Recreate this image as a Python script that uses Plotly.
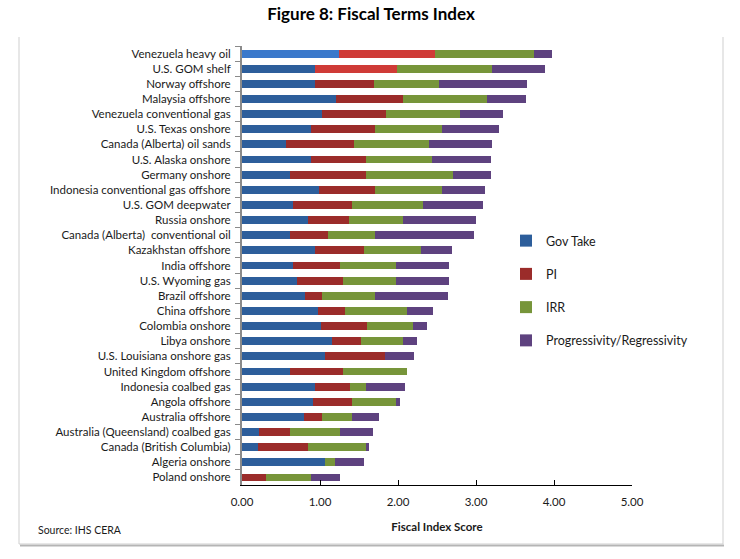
import plotly.graph_objects as go

categories = [
    "Venezuela heavy oil", "U.S. GOM shelf", "Norway offshore", "Malaysia offshore",
    "Venezuela conventional gas", "U.S. Texas onshore", "Canada (Alberta) oil sands",
    "U.S. Alaska onshore", "Germany onshore", "Indonesia conventional gas offshore",
    "U.S. GOM deepwater", "Russia onshore", "Canada (Alberta)  conventional oil",
    "Kazakhstan offshore", "India offshore", "U.S. Wyoming gas", "Brazil offshore",
    "China offshore", "Colombia onshore", "Libya onshore", "U.S. Louisiana onshore gas",
    "United Kingdom offshore", "Indonesia coalbed gas", "Angola offshore",
    "Australia offshore", "Australia (Queensland) coalbed gas",
    "Canada (British Columbia)", "Algeria onshore", "Poland onshore",
]
gov_take = [1.24, 0.93, 0.94, 1.20, 1.03, 0.89, 0.57, 0.89, 0.61, 0.99,
            0.66, 0.84, 0.62, 0.93, 0.66, 0.71, 0.81, 0.97, 1.01, 1.16,
            1.06, 0.62, 0.93, 0.91, 0.79, 0.22, 0.21, 1.07, 0.00]
pi = [1.24, 1.06, 0.75, 0.86, 0.81, 0.82, 0.86, 0.70, 0.98, 0.72,
      0.75, 0.53, 0.48, 0.63, 0.60, 0.58, 0.21, 0.35, 0.59, 0.37,
      0.77, 0.67, 0.46, 0.50, 0.24, 0.40, 0.63, 0.00, 0.31]
irr = [1.26, 1.21, 0.83, 1.08, 0.95, 0.86, 0.97, 0.84, 1.11, 0.86,
       0.91, 0.70, 0.61, 0.74, 0.72, 0.68, 0.69, 0.79, 0.59, 0.53,
       0.00, 0.82, 0.20, 0.56, 0.38, 0.64, 0.75, 0.12, 0.58]
prog = [0.23, 0.68, 1.13, 0.50, 0.56, 0.72, 0.81, 0.76, 0.49, 0.54,
        0.77, 0.93, 1.26, 0.39, 0.68, 0.68, 0.93, 0.34, 0.18, 0.18,
        0.38, 0.00, 0.50, 0.05, 0.35, 0.42, 0.04, 0.37, 0.36]
series_names = ["Gov Take", "PI", "IRR", "Progressivity/Regressivity"]
x_ticks = [0, 1, 2, 3, 4, 5]
x_tick_labels = ["0.00", "1.00", "2.00", "3.00", "4.00", "5.00"]

BLUE, RED, GREEN, PURPLE = "#2D5E9B", "#9B2C2A", "#77953A", "#5E427F"
blue_cols = ["#3B79CB"] + [BLUE] * (len(categories) - 1)
red_cols = ["#CF3B37", "#CF3B37"] + [RED] * (len(categories) - 2)

FONT = "Lato, 'Open Sans', sans-serif"

W, H = 740, 559
L, R, T, B = 242, 632, 46, 485

def px_x(p):
    return (p - L) / (R - L)

def px_y(p):
    return 1 - (p - T) / (B - T)

fig = go.Figure()
for name, vals, col, base_col in zip(series_names, [gov_take, pi, irr, prog],
                                     [blue_cols, red_cols, GREEN, PURPLE],
                                     [BLUE, RED, GREEN, PURPLE]):
    fig.add_trace(go.Bar(
        y=categories, x=vals, name=name, orientation="h",
        marker=dict(color=col, line=dict(width=0)),
        legendgroup=name, showlegend=False, width=0.52,
    ))
    # legend entry with the uniform series colour
    fig.add_trace(go.Bar(
        y=[None], x=[None], name=name, orientation="h",
        marker=dict(color=base_col, line=dict(width=0)),
        legendgroup=name, showlegend=True, hoverinfo="skip",
    ))

shapes = [
    dict(type="line", xref="paper", yref="paper", x0=px_x(19), x1=px_x(19), y0=px_y(37), y1=px_y(544),
         line=dict(color="#cfcfcf", width=1), layer="below"),
    dict(type="line", xref="paper", yref="paper", x0=px_x(723), x1=px_x(723), y0=px_y(37), y1=px_y(544),
         line=dict(color="#cfcfcf", width=1), layer="below"),
    dict(type="line", xref="paper", yref="paper", x0=px_x(20), x1=px_x(724), y0=px_y(545.5), y1=px_y(545.5),
         line=dict(color="#b5b5b5", width=2), layer="below"),
    dict(type="line", xref="paper", yref="paper", x0=px_x(19), x1=px_x(723), y0=px_y(544), y1=px_y(544),
         line=dict(color="#cfcfcf", width=1), layer="below"),
]

fig.update_layout(
    width=W, height=H,
    margin=dict(l=L, r=W - R, t=T, b=H - B, autoexpand=False),
    paper_bgcolor="white", plot_bgcolor="white",
    barmode="stack",
    font=dict(family=FONT, size=11.5, color="#1a1a1a"),
    title=dict(text="<b>Figure 8: Fiscal Terms Index</b>", x=371 / W, xref="container",
               xanchor="center", y=1 - 14 / H, yanchor="middle",
               font=dict(family=FONT, size=17, color="black")),
    showlegend=True,
    legend=dict(x=px_x(506), y=px_y(226), xanchor="left", yanchor="top",
                traceorder="grouped", tracegroupgap=14,
                font=dict(family=FONT, size=12.5, color="#1a1a1a"),
                bgcolor="rgba(0,0,0,0)"),
    shapes=shapes,
    annotations=[dict(text="Source: IHS CERA", xref="paper", yref="paper",
                      x=px_x(36), y=px_y(530), xanchor="left", yanchor="middle",
                      showarrow=False, font=dict(family=FONT, size=10.5, color="#1a1a1a"))],
)
fig.update_xaxes(
    range=[0, 5], tickvals=x_ticks, ticktext=x_tick_labels,
    showgrid=False, zeroline=False, showline=True, linecolor="black", linewidth=1,
    ticks="inside", ticklen=5, tickcolor="black", ticklabelstandoff=6,
    tickfont=dict(family=FONT, size=11.5, color="#1a1a1a"),
    title=dict(text="<b>Fiscal Index Score</b>", standoff=16,
               font=dict(family=FONT, size=11.5, color="#1a1a1a")),
)
fig.update_yaxes(
    categoryorder="array", categoryarray=categories, autorange="reversed",
    showgrid=False, zeroline=False, showline=True, linecolor="#8a8a8a", linewidth=2,
    ticks="outside", ticklen=5, tickcolor="#8a8a8a", tickson="boundaries",
    ticklabelstandoff=7,
    tickfont=dict(family=FONT, size=11.5, color="#1a1a1a"),
)

fig.write_html("out.html", config={"displayModeBar": False},
               post_script="document.body.style.margin='0';")
